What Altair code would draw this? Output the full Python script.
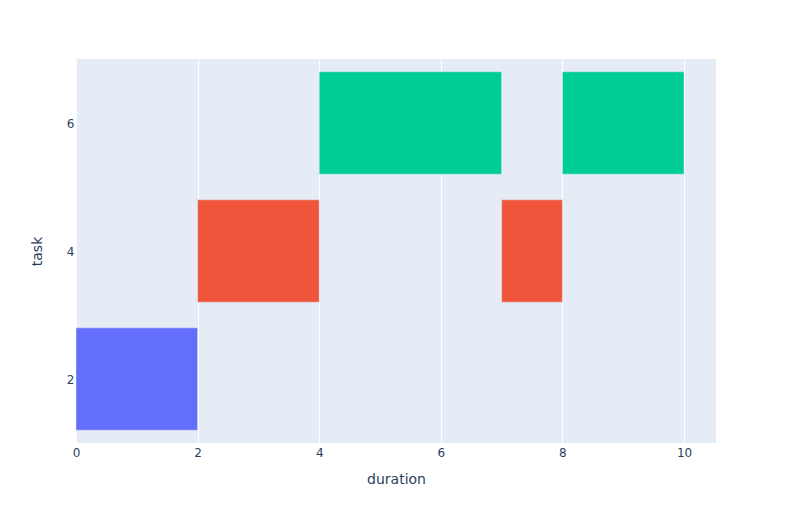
import altair as alt
import pandas as pd

tasks = [2, 4, 4, 6, 6]
starts = [0, 2, 7, 4, 8]
ends = [2, 4, 8, 7, 10]
colors_domain = [2, 4, 6]
colors_range = ["#636efa", "#EF553B", "#00cc96"]

df = pd.DataFrame({"task": tasks, "start": starts, "end": ends})

font = "DejaVu Sans"
txt = "#2a3f5f"

chart = alt.Chart(df).transform_calculate(
    y0="datum.task - 0.8", y1="datum.task + 0.8"
).mark_bar(stroke="#E5ECF6", strokeWidth=0.5).encode(
    x=alt.X("start:Q", title="duration",
            scale=alt.Scale(domain=[0, 10.526], nice=False, zero=False),
            axis=alt.Axis(values=[0, 2, 4, 6, 8, 10], grid=True, gridColor="white",
                          gridWidth=1, domain=False, ticks=False, labelPadding=4,
                          labelFlush=False,
                          labelFont=font, labelFontSize=12, labelColor=txt,
                          titleFont=font, titleFontSize=14, titleColor=txt,
                          titleFontWeight="normal", titlePadding=14)),
    x2="end:Q",
    y=alt.Y("y0:Q", title="task",
            scale=alt.Scale(domain=[1, 7], nice=False, zero=False),
            axis=alt.Axis(values=[2, 4, 6], grid=False, domain=False, ticks=False,
                          labelPadding=2, labelFlush=False,
                          labelFont=font, labelFontSize=12, labelColor=txt,
                          titleFont=font, titleFontSize=14, titleColor=txt,
                          titleFontWeight="normal", titlePadding=22)),
    y2="y1:Q",
    color=alt.Color("task:O", scale=alt.Scale(domain=colors_domain, range=colors_range),
                    legend=None),
).properties(
    width=640, height=384,
    background="white",
    autosize=alt.AutoSizeParams(type="none"),
    padding={"left": 68, "top": 51, "right": 68, "bottom": 69},
).configure_view(fill="#E5ECF6", stroke=None)

chart.save("out.html", embed_options={"renderer": "svg", "actions": False})
